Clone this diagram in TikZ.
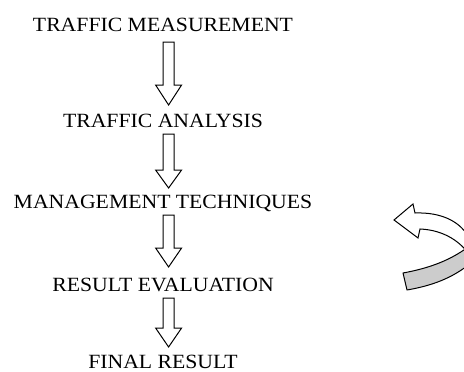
\documentclass[tikz,border=0pt]{standalone}
\usepackage{fontspec}
\setmainfont{Liberation Serif}
\begin{document}
\begin{tikzpicture}[x=1pt,y=-1pt,
  lbl/.style={anchor=base,inner sep=0pt,font=\fontsize{20.2}{24}\selectfont},
  blockarrow/.style={draw=black,line width=1pt,fill=white,line join=miter}]
\useasboundingbox (0,0) rectangle (464,372);
\node[lbl] (t1) at (163,31.7) {\scalebox{1.075}[1]{TRAFFIC MEASUREMENT}};
\node[lbl] (t2) at (163,127.7) {\scalebox{1.075}[1]{TRAFFIC ANALYSIS}};
\node[lbl] (t3) at (163,208.3) {\scalebox{1.075}[1]{MANAGEMENT TECHNIQUES}};
\node[lbl] (t4) at (163,291) {\scalebox{1.075}[1]{RESULT EVALUATION}};
\node[lbl] (t5) at (163,368) {\scalebox{1.075}[1]{FINAL RESULT}};
% block arrows
\foreach \top/\base/\tip in {42/85/105, 134/170/188, 215/248/267, 298/328/347}{
  \draw[blockarrow] (163,\top) -- (174.2,\top) -- (174.2,\base) -- (181.6,\base)
    -- (168.6,\tip) -- (155.6,\base) -- (163,\base) -- cycle;
}
% curved ribbon arrow
\begin{scope}
\clip (0,0) rectangle (464,372);
\draw[line width=1pt,fill=black!20,line join=round]
  (403,273) .. controls (430,268) and (452,260) .. (472,244)
  -- (472,262) .. controls (452,279) and (430,286) .. (407,290) -- cycle;
\draw[line width=1pt,fill=white,line join=miter]
  (394,220) -- (413,204) -- (415,213) .. controls (442,212) and (462,222) .. (470,240)
  -- (470,256) .. controls (462,243) and (445,230) .. (420,229) -- (418,238) -- cycle;
\end{scope}
\end{tikzpicture}
\end{document}
